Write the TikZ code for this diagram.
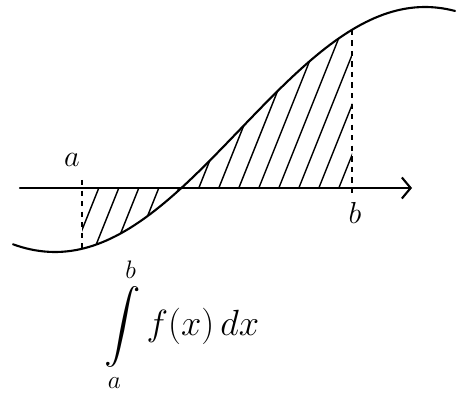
\documentclass[tikz,border=0pt]{standalone}
\usepackage{amsmath}
\usetikzlibrary{arrows.meta}

\begin{document}
\begin{tikzpicture}[x=0.02cm, y=-0.02cm,
    curve/.style={very thick, line cap=round},
    hatch/.style={thick, line cap=round},
    bound/.style={thick, dashed},
    lbl/.style={font=\fontsize{16}{18}\selectfont},
    declare function={f(\t)=129.5+122.5*cos(0.4865*(\t-55));}]
  \useasboundingbox (0,0) rectangle (465,394);

  % Axis
  \coordinate (xstart) at (20,188);
  \coordinate (xend) at (412,188);
  \draw[curve, -{Straight Barb[length=5pt, width=12pt]}] (xstart) -- (xend);

  % Curve f(x)
  \draw[curve, variable=\x, domain=13:455, samples=100] plot ({\x}, {f(\x)});

  % Hatched area between a and b
  \begin{scope}
    \clip (82,188) -- plot[variable=\x, domain=82:352, samples=80] ({\x}, {f(\x)})
      -- (352,188) -- cycle;
    \foreach \i in {-130,-110,...,460}
      \draw[hatch] (\i,260) -- ++(110,-275);
  \end{scope}

  % Bounds
  \coordinate (atop) at (82,180);
  \coordinate (abot) at (82,{f(82)});
  \coordinate (btop) at (352,{f(352)});
  \coordinate (bbot) at (352,193);
  \draw[bound] (atop) -- (abot);
  \draw[bound] (btop) -- (bbot);
  \node[lbl] (la) at (72,160) {$a$};
  \node[lbl] (lb) at (355,213) {$b$};

  % Integral
  \node[font=\fontsize{20}{24}\selectfont, anchor=west] (int) at (98,325)
    {$\displaystyle\int\limits_a^b f(x)\,dx$};
\end{tikzpicture}
\end{document}
